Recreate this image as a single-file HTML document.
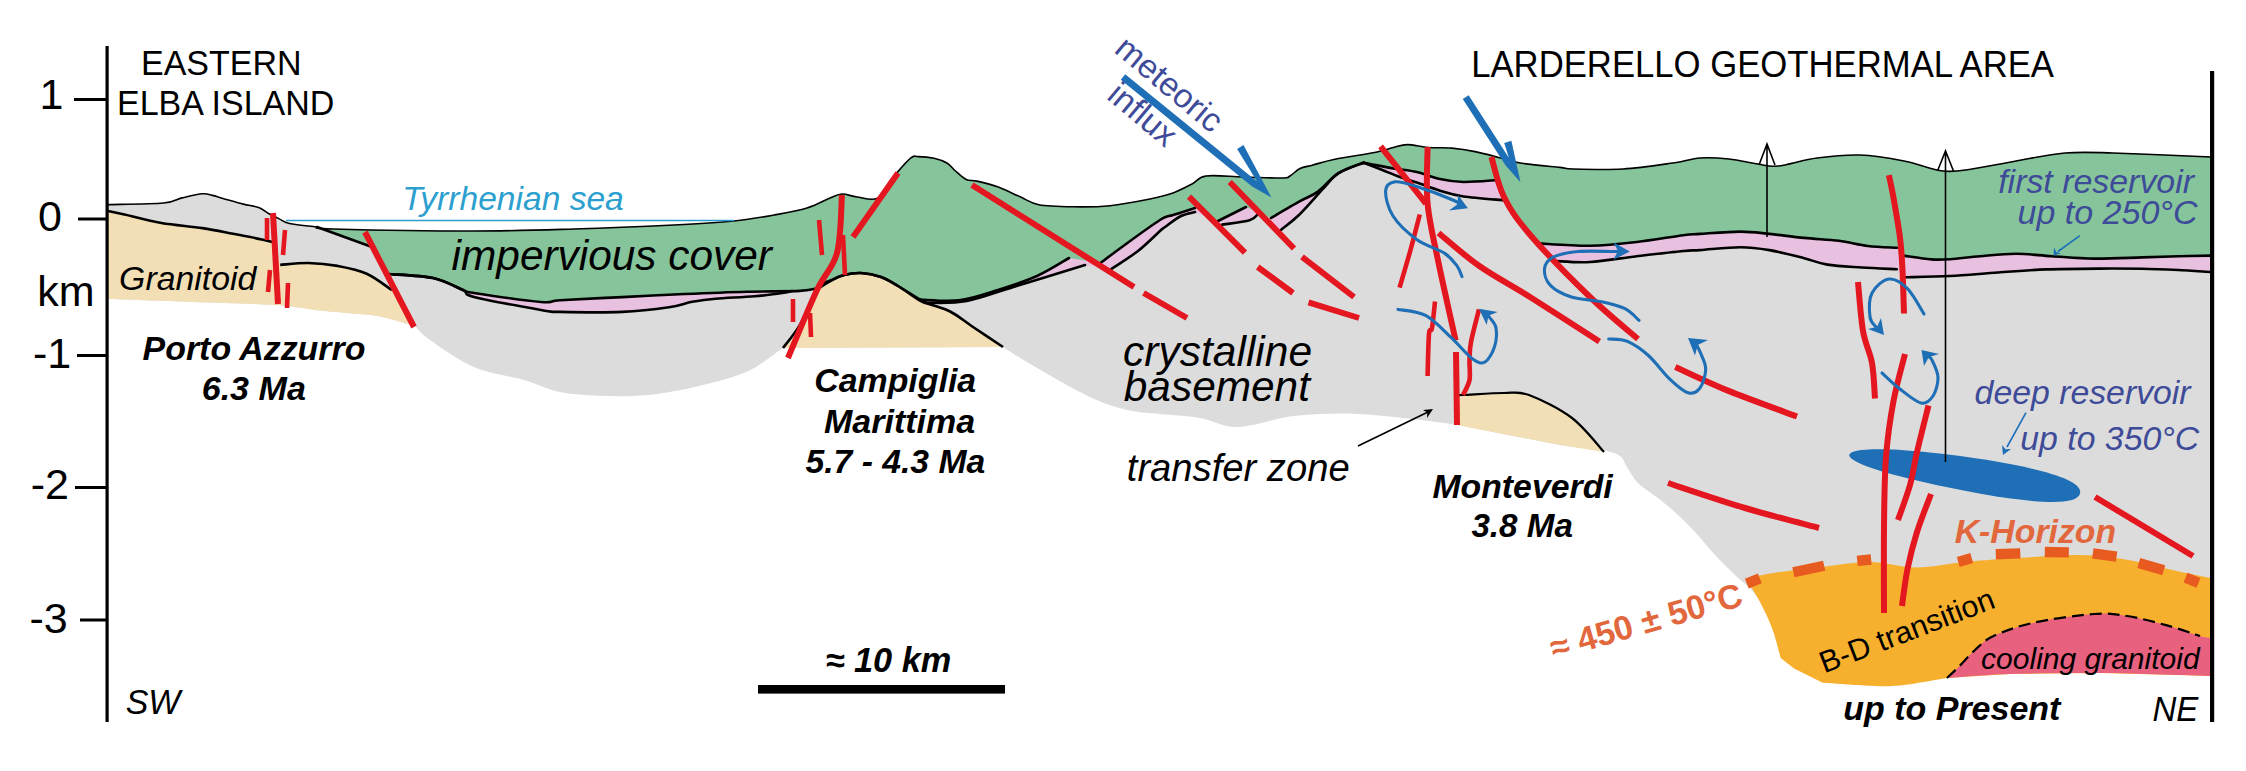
<!DOCTYPE html>
<html><head><meta charset="utf-8"><style>
html,body{margin:0;padding:0;background:#fff;}
svg{display:block;}
text{font-family:"Liberation Sans",sans-serif;}
</style></head><body>
<svg width="2246" height="771" viewBox="0 0 2246 771">
<rect width="2246" height="771" fill="#fff"/>
<path fill="#dcdcdc" d="M107,204.6 C116.4,204.3 151,204.1 163.5,203 C176,201.9 175.5,199.4 182,197.9 C188.5,196.4 197.3,194.2 202.4,193.8 C207.5,193.4 209.2,194.6 212.6,195.4 C216,196.2 217.8,197 222.9,198.4 C228,199.8 237.4,202.6 243.4,204.1 C249.4,205.6 254.4,206 258.7,207.6 C263,209.2 265.6,211.9 269,213.8 C272.4,215.7 275.8,217.3 279.2,218.9 C282.6,220.5 283.2,222.2 289.5,223.5 C295.8,224.8 312.4,226.4 317,227 L317,227 C319.7,227.3 306.8,228.3 333,229 C359.2,229.7 433.8,231 474,231 C514.2,231 540.7,230 574,229 C607.3,228 647.3,226.3 674,225 C700.7,223.7 717.3,222.7 734,221 C750.7,219.3 761.8,217.2 774,215 C786.2,212.8 797.7,210.8 807,208 C816.3,205.2 824.2,200.3 830,198 C835.8,195.7 837.5,194.2 842,194 C846.5,193.8 851.1,196.3 857,197 C862.9,197.7 871.8,201.1 877.5,198.2 C883.2,195.3 885.9,186.2 891.4,179.5 C896.9,172.8 906.1,162 910.6,158.2 C915.1,154.4 914.2,156.6 918.1,156.6 C922,156.6 929.3,157.1 934.1,158.2 C938.9,159.3 943.3,160.9 946.9,163 C950.5,165.1 952.3,168.2 955.5,171 C958.7,173.8 962.6,177.8 966.2,179.5 C969.8,181.2 971.6,179.8 976.9,181.1 C982.2,182.3 991.1,184.4 998.2,187 C1005.3,189.6 1012.8,193.7 1019.6,196.6 C1026.4,199.5 1029.9,203 1038.8,204.7 C1047.7,206.4 1061.1,206.6 1073,206.8 C1084.9,207 1097.2,207 1110,205.7 C1122.8,204.4 1139.5,201.1 1150,199 C1160.5,196.9 1166,195.5 1173,193 C1180,190.5 1186.5,186.8 1192,184 C1197.5,181.2 1197.5,177.2 1206,176 C1214.5,174.8 1230.3,176.7 1243,177 C1255.7,177.3 1274.2,178.2 1282,178 C1289.8,177.8 1287,177.6 1290,176 C1293,174.4 1296.2,170.3 1300,168.5 C1303.8,166.7 1307.2,166.6 1313,165 C1318.8,163.4 1324.5,161.3 1335,159.2 C1345.5,157.1 1366.2,154.1 1375.9,152.2 C1385.6,150.2 1388.2,148.8 1393.4,147.5 C1398.7,146.2 1401.6,144.6 1407.4,144.6 C1413.2,144.6 1421,146.9 1428.4,147.5 C1435.8,148.1 1444,147.4 1451.8,148.1 C1459.6,148.8 1467.3,150 1475.1,151.6 C1482.9,153.2 1490.7,155.4 1498.5,157.4 C1506.3,159.4 1511.5,161.6 1521.8,163.3 C1532,165 1551.5,166.5 1560,167.4 C1568.5,168.3 1562.5,168.7 1573,169 C1583.5,169.3 1606.3,170 1623,169 C1639.7,168 1660.2,164.8 1673,163 C1685.8,161.2 1690.7,158.7 1700,158 C1709.3,157.3 1719.3,158 1729,159 C1738.7,160 1749.8,162.8 1758,164 C1766.2,165.2 1768.2,167 1778,166 C1787.8,165 1803.3,159.8 1817,158 C1830.7,156.2 1845.5,154.5 1860,155 C1874.5,155.5 1890.2,158.3 1904,161 C1917.8,163.7 1931.7,169.7 1943,171 C1954.3,172.3 1959.8,170.7 1972,169 C1984.2,167.3 2000.5,163.7 2016,161 C2031.5,158.3 2048.8,154.3 2065,153 C2081.2,151.7 2088.7,152.3 2113,153 C2137.3,153.7 2194.7,156.3 2211,157 L2211,600 L1760,600 L1749,587 C1746.8,585.2 1741.6,581.2 1736,576 C1730.4,570.8 1722.4,562.9 1715.6,555.6 C1708.8,548.3 1701.4,538.9 1695,532 C1688.6,525.1 1683.1,519.6 1677,514 C1670.9,508.4 1665.1,503.8 1658.6,498.6 C1652.1,493.4 1643.3,488.3 1638,483 C1632.7,477.7 1630,471.5 1627,467 C1624,462.5 1623.8,458.7 1620,456 C1616.2,453.3 1609.7,451.9 1604,450.6 C1598.3,449.3 1593.3,448.9 1586,448 C1578.7,447.1 1573,447.2 1560,445 C1547,442.8 1527.3,438.7 1508,435 C1488.7,431.3 1469,426.5 1444,423 C1419,419.5 1383,415.2 1358,414 C1333,412.8 1314,413.8 1294,416 C1274,418.2 1253.7,426.7 1238,427 C1222.3,427.3 1213,420.2 1200,418 C1187,415.8 1171.3,415.2 1160,414 C1148.7,412.8 1141.2,412.8 1132,411 C1122.8,409.2 1114,406.8 1105,403.5 C1096,400.2 1087,395.6 1078,391 C1069,386.4 1060.1,381.2 1051,376 C1041.9,370.8 1031.5,364.8 1023.5,360 C1015.5,355.2 1006.4,349.2 1003,347 L1003,347 L783,348 L783,348 C782.1,348.6 783.9,347.6 777.9,351.6 C771.9,355.6 759.8,366.1 746.8,371.8 C733.8,377.5 715.6,382 700,385.8 C684.4,389.6 668.9,392.7 653.4,394.4 C637.9,396.1 622.3,396.4 606.7,396 C591.1,395.6 573.8,394.7 560,392 C546.2,389.3 538.3,384.2 524,380 C509.7,375.8 489.7,373.7 474,367 C458.3,360.3 439.8,346.8 430,340 C420.2,333.2 417.5,328.3 415,326 L415,326 C409.2,324.4 391.3,318.6 380,316.4 C368.7,314.2 357.4,314 347,313 C336.6,312 329.3,311.5 317.5,310.2 C305.7,308.9 296.8,306.4 276,305 C255.2,303.6 221.2,302.9 193,301.9 C164.8,300.9 121.3,299.5 107,299 Z"/>
<path fill="#f2dfb6" d="M107,210.7 C110.1,211.4 116.5,212.8 125.6,214.8 C134.7,216.9 148.6,220.8 161.4,223 C174.2,225.2 190.5,226.3 202.4,228.1 C214.3,229.9 223.2,231.9 233.1,233.8 C243,235.7 255.3,238 261.8,239.4 C268.3,240.8 270.3,241.6 272,242 L276,242 L280.2,264.9 L280.2,264.9 C284.9,264.6 298.8,262.8 308.4,263 C317.9,263.2 327.8,264.1 337.5,265.9 C347.2,267.7 357.6,269.6 366.7,273.7 C375.8,277.8 387.8,287.4 392,290.2 L415,326 L415,326 C409.2,324.4 391.3,318.6 380,316.4 C368.7,314.2 357.4,314 347,313 C336.6,312 329.3,311.5 317.5,310.2 C305.7,308.9 296.8,306.4 276,305 C255.2,303.6 221.2,302.9 193,301.9 C164.8,300.9 121.3,299.5 107,299 Z"/>
<path fill="#f2dfb6" d="M783,348 C785.8,344.2 793.6,335.3 799.6,325.3 C805.6,315.3 813.6,295.6 819,288 C824.4,280.4 827.8,282.2 832,280 C836.2,277.8 839.2,276.2 844,275 C848.8,273.8 854.8,272.7 861,273 C867.2,273.3 874.8,274.8 881,277 C887.2,279.2 891.5,282.1 898,286 C904.5,289.9 914.8,297.7 920,300.7 C925.2,303.7 923.8,302.1 929,304 C934.2,305.9 943.7,308.2 951,312 C958.3,315.8 964.3,321.2 973,327 C981.7,332.8 998,343.7 1003,347 Z"/>
<path fill="#f2dfb6" d="M1457,395 C1458,395 1455.2,395.3 1463,395 C1470.8,394.7 1493,393 1504,393 C1515,393 1517.7,390.8 1529,395 C1540.3,399.2 1559.5,408.5 1572,418 C1584.5,427.5 1598.7,446.3 1604,452 L1560,445 C1551.3,443.3 1525.2,438.3 1508,435 C1490.8,431.7 1465.5,426.7 1457,425 Z"/>
<path fill="#e7c1df" d="M317,227 C319.7,227.3 306.8,228.3 333,229 C359.2,229.7 433.8,231 474,231 C514.2,231 540.7,230 574,229 C607.3,228 647.3,226.3 674,225 C700.7,223.7 717.3,222.7 734,221 C750.7,219.3 761.8,217.2 774,215 C786.2,212.8 797.7,210.8 807,208 C816.3,205.2 824.2,200.3 830,198 C835.8,195.7 837.5,194.2 842,194 C846.5,193.8 851.1,196.3 857,197 C862.9,197.7 871.8,201.1 877.5,198.2 C883.2,195.3 885.9,186.2 891.4,179.5 C896.9,172.8 906.1,162 910.6,158.2 C915.1,154.4 914.2,156.6 918.1,156.6 C922,156.6 929.3,157.1 934.1,158.2 C938.9,159.3 943.3,160.9 946.9,163 C950.5,165.1 952.3,168.2 955.5,171 C958.7,173.8 962.6,177.8 966.2,179.5 C969.8,181.2 971.6,179.8 976.9,181.1 C982.2,182.3 991.1,184.4 998.2,187 C1005.3,189.6 1012.8,193.7 1019.6,196.6 C1026.4,199.5 1029.9,203 1038.8,204.7 C1047.7,206.4 1061.1,206.6 1073,206.8 C1084.9,207 1097.2,207 1110,205.7 C1122.8,204.4 1139.5,201.1 1150,199 C1160.5,196.9 1166,195.5 1173,193 C1180,190.5 1186.5,186.8 1192,184 C1197.5,181.2 1197.5,177.2 1206,176 C1214.5,174.8 1230.3,176.7 1243,177 C1255.7,177.3 1274.2,178.2 1282,178 C1289.8,177.8 1287,177.6 1290,176 C1293,174.4 1296.2,170.3 1300,168.5 C1303.8,166.7 1307.2,166.6 1313,165 C1318.8,163.4 1324.5,161.3 1335,159.2 C1345.5,157.1 1366.2,154.1 1375.9,152.2 C1385.6,150.2 1388.2,148.8 1393.4,147.5 C1398.7,146.2 1401.6,144.6 1407.4,144.6 C1413.2,144.6 1421,146.9 1428.4,147.5 C1435.8,148.1 1444,147.4 1451.8,148.1 C1459.6,148.8 1467.3,150 1475.1,151.6 C1482.9,153.2 1490.7,155.4 1498.5,157.4 C1506.3,159.4 1511.5,161.6 1521.8,163.3 C1532,165 1551.5,166.5 1560,167.4 C1568.5,168.3 1562.5,168.7 1573,169 C1583.5,169.3 1606.3,170 1623,169 C1639.7,168 1660.2,164.8 1673,163 C1685.8,161.2 1690.7,158.7 1700,158 C1709.3,157.3 1719.3,158 1729,159 C1738.7,160 1749.8,162.8 1758,164 C1766.2,165.2 1768.2,167 1778,166 C1787.8,165 1803.3,159.8 1817,158 C1830.7,156.2 1845.5,154.5 1860,155 C1874.5,155.5 1890.2,158.3 1904,161 C1917.8,163.7 1931.7,169.7 1943,171 C1954.3,172.3 1959.8,170.7 1972,169 C1984.2,167.3 2000.5,163.7 2016,161 C2031.5,158.3 2048.8,154.3 2065,153 C2081.2,151.7 2088.7,152.3 2113,153 C2137.3,153.7 2194.7,156.3 2211,157 L2211,272 C2205.5,271.7 2189.5,270.5 2178,270 C2166.5,269.5 2155,269 2142,268.8 C2129,268.6 2116,268.5 2100,268.6 C2084,268.7 2063,268.8 2046,269.4 C2029,270 2014,271.4 1998,272.5 C1982,273.6 1965.3,275.2 1950,276 C1934.7,276.8 1913.3,277.1 1906,277.3 L1896.8,269.2 C1891,268.9 1873.6,268.3 1862,267.5 C1850.4,266.7 1836.9,266.2 1827.3,264.6 C1817.7,263.1 1813.8,260.6 1804.2,258.2 C1794.6,255.8 1780,251.9 1769.4,250.1 C1758.8,248.3 1752.1,247.2 1740.5,247.2 C1728.9,247.2 1709.5,249.5 1700,250.1 C1690.5,250.7 1694,250 1683.5,251 C1673,252 1652.4,254.4 1636.8,256.2 C1621.2,258 1603.5,261.2 1590,262 C1576.5,262.8 1561.2,261.2 1555.5,261 L1555.5,261 C1552.7,258.1 1542.7,247.8 1538.4,243.4 C1534.2,239 1535.4,241.8 1530,234.7 C1524.6,227.5 1510,206.2 1506,200.5 L1506,200.5 C1498.9,199.8 1474.5,198.1 1463.5,196.5 C1452.5,194.9 1447.8,193 1440,190.7 C1432.2,188.4 1423.6,184.8 1416.8,182.5 C1410,180.2 1405,178.8 1399.2,176.7 C1393.4,174.6 1387.6,172 1381.7,169.7 C1375.8,167.4 1366.6,163.9 1363.6,162.7 L1363.6,162.7 C1359.4,164.4 1345.2,168.9 1338.5,173.2 C1331.8,177.5 1329.8,181.6 1323.4,188.4 C1317,195.2 1307.1,207.1 1300,214 C1292.9,220.9 1284.2,227.3 1281,230 L1258,214 C1256.6,215 1255.7,218.4 1249.6,220.2 C1243.5,222 1226.3,224 1221.6,224.8 L1195,212 C1192.7,212.7 1186,213.5 1181,216 C1176,218.5 1168.5,224.5 1165,227 C1161.5,229.5 1164.5,227 1160,231 C1155.5,235 1146.1,244.7 1138,251 C1129.9,257.3 1115.8,266 1111.4,269 L1085,265 C1073.1,268.7 1033.1,281 1013.4,287 C993.7,293 980.8,298.4 966.7,301 C952.6,303.6 936.8,302.9 929,302.7 C921.2,302.5 921.5,300.1 920,299.6 L920,299.6 C916.3,297.3 904.5,289.8 898,286 C891.5,282.2 887.2,279.2 881,277 C874.8,274.8 867.2,273.3 861,273 C854.8,272.7 848.8,273.8 844,275 C839.2,276.2 836.2,277.8 832,280 C827.8,282.2 821.2,286.7 819,288 L792,291 C791,291.2 791.9,291.6 785.7,292.5 C779.5,293.4 766.3,295.3 754.6,296.3 C742.9,297.3 726,297.8 715.6,298.7 C705.2,299.6 700.1,300.4 692.3,301.8 C684.5,303.2 680.7,305.5 669,307.2 C657.3,308.9 640.5,311.1 622.3,311.9 C604.1,312.7 573.5,312.2 560,311.9 C546.5,311.6 555.3,312.5 541,310 C526.7,307.5 487,300.3 474,297 C461,293.7 469.8,293.2 463,290 C456.2,286.8 445.5,280.7 433,278 C420.5,275.3 395.5,274.7 388,274 L372,247 L317,227 Z"/>
<path fill="#86c59b" d="M317,227 C319.7,227.3 306.8,228.3 333,229 C359.2,229.7 433.8,231 474,231 C514.2,231 540.7,230 574,229 C607.3,228 647.3,226.3 674,225 C700.7,223.7 717.3,222.7 734,221 C750.7,219.3 761.8,217.2 774,215 C786.2,212.8 797.7,210.8 807,208 C816.3,205.2 824.2,200.3 830,198 C835.8,195.7 837.5,194.2 842,194 C846.5,193.8 851.1,196.3 857,197 C862.9,197.7 871.8,201.1 877.5,198.2 C883.2,195.3 885.9,186.2 891.4,179.5 C896.9,172.8 906.1,162 910.6,158.2 C915.1,154.4 914.2,156.6 918.1,156.6 C922,156.6 929.3,157.1 934.1,158.2 C938.9,159.3 943.3,160.9 946.9,163 C950.5,165.1 952.3,168.2 955.5,171 C958.7,173.8 962.6,177.8 966.2,179.5 C969.8,181.2 971.6,179.8 976.9,181.1 C982.2,182.3 991.1,184.4 998.2,187 C1005.3,189.6 1012.8,193.7 1019.6,196.6 C1026.4,199.5 1029.9,203 1038.8,204.7 C1047.7,206.4 1061.1,206.6 1073,206.8 C1084.9,207 1097.2,207 1110,205.7 C1122.8,204.4 1139.5,201.1 1150,199 C1160.5,196.9 1166,195.5 1173,193 C1180,190.5 1186.5,186.8 1192,184 C1197.5,181.2 1197.5,177.2 1206,176 C1214.5,174.8 1230.3,176.7 1243,177 C1255.7,177.3 1274.2,178.2 1282,178 C1289.8,177.8 1287,177.6 1290,176 C1293,174.4 1296.2,170.3 1300,168.5 C1303.8,166.7 1307.2,166.6 1313,165 C1318.8,163.4 1324.5,161.3 1335,159.2 C1345.5,157.1 1366.2,154.1 1375.9,152.2 C1385.6,150.2 1388.2,148.8 1393.4,147.5 C1398.7,146.2 1401.6,144.6 1407.4,144.6 C1413.2,144.6 1421,146.9 1428.4,147.5 C1435.8,148.1 1444,147.4 1451.8,148.1 C1459.6,148.8 1467.3,150 1475.1,151.6 C1482.9,153.2 1490.7,155.4 1498.5,157.4 C1506.3,159.4 1511.5,161.6 1521.8,163.3 C1532,165 1551.5,166.5 1560,167.4 C1568.5,168.3 1562.5,168.7 1573,169 C1583.5,169.3 1606.3,170 1623,169 C1639.7,168 1660.2,164.8 1673,163 C1685.8,161.2 1690.7,158.7 1700,158 C1709.3,157.3 1719.3,158 1729,159 C1738.7,160 1749.8,162.8 1758,164 C1766.2,165.2 1768.2,167 1778,166 C1787.8,165 1803.3,159.8 1817,158 C1830.7,156.2 1845.5,154.5 1860,155 C1874.5,155.5 1890.2,158.3 1904,161 C1917.8,163.7 1931.7,169.7 1943,171 C1954.3,172.3 1959.8,170.7 1972,169 C1984.2,167.3 2000.5,163.7 2016,161 C2031.5,158.3 2048.8,154.3 2065,153 C2081.2,151.7 2088.7,152.3 2113,153 C2137.3,153.7 2194.7,156.3 2211,157 L2211,255.6 C2205.5,255.7 2189.5,255.9 2178,256.2 C2166.5,256.5 2156,257 2142,257.4 C2128,257.8 2109,258.8 2094,258.6 C2079,258.4 2065,257 2052,256.2 C2039,255.4 2028,253.8 2016,253.8 C2004,253.8 1991,255.3 1980,256.2 C1969,257.1 1958.1,258.7 1950,259.2 C1941.9,259.7 1939,259.9 1931.5,259.4 C1924,258.8 1909.3,256.5 1904.9,255.9 L1896.8,247.8 C1892,247.5 1877.4,247.2 1867.8,246 C1858.2,244.8 1849.5,242.2 1838.9,240.8 C1828.3,239.5 1815.8,239.1 1804.2,237.9 C1792.6,236.8 1780,235 1769.4,233.9 C1758.8,232.8 1752.1,231.6 1740.5,231.6 C1728.9,231.6 1709.5,233.3 1700,233.9 C1690.5,234.5 1694,233.8 1683.5,235.2 C1673,236.5 1652.4,240.2 1636.8,242 C1621.2,243.8 1606.4,245.5 1590,245.7 C1573.6,245.9 1547,243.8 1538.4,243.4 L1538.4,243.4 C1537,241.9 1535.7,242.4 1530,234.7 C1524.3,227 1509.2,206.1 1504,197 C1498.8,187.9 1499.6,182.8 1498.7,180 L1498.7,180 C1492.8,180.3 1473.3,182.2 1463.5,182 C1453.7,181.8 1447.8,180.7 1440,179 C1432.2,177.3 1424.6,173.8 1416.8,172 C1409,170.2 1400.8,169.8 1393.4,168.5 C1386,167.2 1377.4,165.4 1372.4,164.4 C1367.4,163.4 1365.1,163 1363.6,162.7 L1363.6,162.7 C1359.4,164.4 1346.2,168.3 1338.5,173.2 C1330.8,178.1 1323.9,187.2 1317.5,191.9 C1311.1,196.6 1307.8,196.8 1300,201.2 C1292.2,205.5 1275.8,215.2 1271,218 L1246,207 L1218,221 L1195,208 C1191.3,209.2 1178.8,213 1173,215 C1167.2,217 1168.5,214.7 1160,220 C1151.5,225.3 1132.2,239.5 1122.3,246.7 C1112.4,253.9 1104.1,260.3 1100.5,263 L1069,258 C1063.7,261 1048.8,270.7 1037,276 C1025.2,281.3 1011,285.9 998,290 C985,294.1 972,298.8 959,300.4 C946,302 926.5,299.7 920,299.6 L920,299.6 C916.3,297.3 904.5,289.8 898,286 C891.5,282.2 887.2,279.2 881,277 C874.8,274.8 867.2,273.3 861,273 C854.8,272.7 848.8,273.8 844,275 C839.2,276.2 836.2,277.8 832,280 C827.8,282.2 821.2,286.7 819,288 L819,288 C815.8,288.5 812,290.3 800,290.9 C788,291.5 766,291.2 746.8,291.7 C727.5,292.2 705.2,293.1 684.5,294 C663.8,294.9 643,296.1 622.3,297.1 C601.5,298.1 573.5,299.4 560,300.2 C546.5,301 555.3,303.2 541,302 C526.7,300.8 487,295 474,293 C461,291 469.8,292.5 463,290 C456.2,287.5 445.5,280.7 433,278 C420.5,275.3 395.5,274.7 388,274 L372,247 L317,227 Z"/>
<path fill="#f7b02e" d="M1746,578.4 C1751.1,577.4 1763.8,574.5 1776.7,572.5 C1789.6,570.5 1807.9,568.5 1823.4,566.7 C1839,565 1854.5,561.9 1870,562 C1885.5,562.1 1901.1,567.5 1916.7,567.5 C1932.3,567.5 1947.9,563.5 1963.4,562 C1979,560.5 1990.6,559.7 2010,558.5 C2029.4,557.3 2060.5,554.8 2080,555 C2099.5,555.2 2111.2,557.2 2126.8,559.7 C2142.4,562.2 2159.3,567.1 2173.5,570.2 C2187.7,573.3 2205.6,577 2212,578.4 L2212,676 L2100,673 L2010,674 L1947,678 C1939.2,679.2 1912.8,684.2 1900,685.5 C1887.2,686.8 1882.9,686.2 1870,685.7 C1857.1,685.2 1830.6,683.2 1822.7,682.7 L1794,668.4 L1780.7,658 L1780.7,658 C1779.3,653.2 1775.9,638.5 1772.4,629.2 C1769,619.9 1764.4,610.5 1760,602 C1755.6,593.5 1748.3,582.3 1746,578.4 Z"/>
<path fill="#e8617f" d="M1947,678 C1949,676.1 1954,671.5 1958.7,666.8 C1963.4,662.1 1969.2,655.1 1975,650 C1980.8,644.9 1983.7,640.5 1993.5,636 C2003.3,631.5 2016.9,626.4 2033.6,622.7 C2050.3,619 2078.1,615.1 2093.7,614 C2109.3,612.9 2114.8,614.1 2127,616 C2139.2,617.9 2154.8,622.1 2167,625.4 C2179.2,628.7 2192.5,633.9 2200,636 C2207.5,638.1 2210,637.7 2212,638 L2212,676 C2193.3,675.5 2133.7,673.3 2100,673 C2066.3,672.7 2035.5,673.2 2010,674 C1984.5,674.8 1957.5,677.3 1947,678 Z"/>
<path d="M107,204.6 C116.4,204.3 151,204.1 163.5,203 C176,201.9 175.5,199.4 182,197.9 C188.5,196.4 197.3,194.2 202.4,193.8 C207.5,193.4 209.2,194.6 212.6,195.4 C216,196.2 217.8,197 222.9,198.4 C228,199.8 237.4,202.6 243.4,204.1 C249.4,205.6 254.4,206 258.7,207.6 C263,209.2 265.6,211.9 269,213.8 C272.4,215.7 275.8,217.3 279.2,218.9 C282.6,220.5 283.2,222.2 289.5,223.5 C295.8,224.8 312.4,226.4 317,227 M317,227 C319.7,227.3 306.8,228.3 333,229 C359.2,229.7 433.8,231 474,231 C514.2,231 540.7,230 574,229 C607.3,228 647.3,226.3 674,225 C700.7,223.7 717.3,222.7 734,221 C750.7,219.3 761.8,217.2 774,215 C786.2,212.8 797.7,210.8 807,208 C816.3,205.2 824.2,200.3 830,198 C835.8,195.7 837.5,194.2 842,194 C846.5,193.8 851.1,196.3 857,197 C862.9,197.7 871.8,201.1 877.5,198.2 C883.2,195.3 885.9,186.2 891.4,179.5 C896.9,172.8 906.1,162 910.6,158.2 C915.1,154.4 914.2,156.6 918.1,156.6 C922,156.6 929.3,157.1 934.1,158.2 C938.9,159.3 943.3,160.9 946.9,163 C950.5,165.1 952.3,168.2 955.5,171 C958.7,173.8 962.6,177.8 966.2,179.5 C969.8,181.2 971.6,179.8 976.9,181.1 C982.2,182.3 991.1,184.4 998.2,187 C1005.3,189.6 1012.8,193.7 1019.6,196.6 C1026.4,199.5 1029.9,203 1038.8,204.7 C1047.7,206.4 1061.1,206.6 1073,206.8 C1084.9,207 1097.2,207 1110,205.7 C1122.8,204.4 1139.5,201.1 1150,199 C1160.5,196.9 1166,195.5 1173,193 C1180,190.5 1186.5,186.8 1192,184 C1197.5,181.2 1197.5,177.2 1206,176 C1214.5,174.8 1230.3,176.7 1243,177 C1255.7,177.3 1274.2,178.2 1282,178 C1289.8,177.8 1287,177.6 1290,176 C1293,174.4 1296.2,170.3 1300,168.5 C1303.8,166.7 1307.2,166.6 1313,165 C1318.8,163.4 1324.5,161.3 1335,159.2 C1345.5,157.1 1366.2,154.1 1375.9,152.2 C1385.6,150.2 1388.2,148.8 1393.4,147.5 C1398.7,146.2 1401.6,144.6 1407.4,144.6 C1413.2,144.6 1421,146.9 1428.4,147.5 C1435.8,148.1 1444,147.4 1451.8,148.1 C1459.6,148.8 1467.3,150 1475.1,151.6 C1482.9,153.2 1490.7,155.4 1498.5,157.4 C1506.3,159.4 1511.5,161.6 1521.8,163.3 C1532,165 1551.5,166.5 1560,167.4 C1568.5,168.3 1562.5,168.7 1573,169 C1583.5,169.3 1606.3,170 1623,169 C1639.7,168 1660.2,164.8 1673,163 C1685.8,161.2 1690.7,158.7 1700,158 C1709.3,157.3 1719.3,158 1729,159 C1738.7,160 1749.8,162.8 1758,164 C1766.2,165.2 1768.2,167 1778,166 C1787.8,165 1803.3,159.8 1817,158 C1830.7,156.2 1845.5,154.5 1860,155 C1874.5,155.5 1890.2,158.3 1904,161 C1917.8,163.7 1931.7,169.7 1943,171 C1954.3,172.3 1959.8,170.7 1972,169 C1984.2,167.3 2000.5,163.7 2016,161 C2031.5,158.3 2048.8,154.3 2065,153 C2081.2,151.7 2088.7,152.3 2113,153 C2137.3,153.7 2194.7,156.3 2211,157" fill="none" stroke="#000" stroke-width="1.6" stroke-linejoin="round"/>
<path d="M2211,255.6 C2205.5,255.7 2189.5,255.9 2178,256.2 C2166.5,256.5 2156,257 2142,257.4 C2128,257.8 2109,258.8 2094,258.6 C2079,258.4 2065,257 2052,256.2 C2039,255.4 2028,253.8 2016,253.8 C2004,253.8 1991,255.3 1980,256.2 C1969,257.1 1958.1,258.7 1950,259.2 C1941.9,259.7 1939,259.9 1931.5,259.4 C1924,258.8 1909.3,256.5 1904.9,255.9" fill="none" stroke="#000" stroke-width="2.6" stroke-linecap="round"/>
<path d="M1896.8,247.8 C1892,247.5 1877.4,247.2 1867.8,246 C1858.2,244.8 1849.5,242.2 1838.9,240.8 C1828.3,239.5 1815.8,239.1 1804.2,237.9 C1792.6,236.8 1780,235 1769.4,233.9 C1758.8,232.8 1752.1,231.6 1740.5,231.6 C1728.9,231.6 1709.5,233.3 1700,233.9 C1690.5,234.5 1694,233.8 1683.5,235.2 C1673,236.5 1652.4,240.2 1636.8,242 C1621.2,243.8 1606.4,245.5 1590,245.7 C1573.6,245.9 1547,243.8 1538.4,243.4" fill="none" stroke="#000" stroke-width="2.6" stroke-linecap="round"/>
<path d="M1896.8,269.2 C1891,268.9 1873.6,268.3 1862,267.5 C1850.4,266.7 1836.9,266.2 1827.3,264.6 C1817.7,263.1 1813.8,260.6 1804.2,258.2 C1794.6,255.8 1780,251.9 1769.4,250.1 C1758.8,248.3 1752.1,247.2 1740.5,247.2 C1728.9,247.2 1709.5,249.5 1700,250.1 C1690.5,250.7 1694,250 1683.5,251 C1673,252 1652.4,254.4 1636.8,256.2 C1621.2,258 1603.5,261.2 1590,262 C1576.5,262.8 1561.2,261.2 1555.5,261" fill="none" stroke="#000" stroke-width="2.6" stroke-linecap="round"/>
<path d="M1363.6,162.7 C1359.4,164.4 1346.2,168.3 1338.5,173.2 C1330.8,178.1 1323.9,187.2 1317.5,191.9 C1311.1,196.6 1307.8,196.8 1300,201.2 C1292.2,205.5 1275.8,215.2 1271,218" fill="none" stroke="#000" stroke-width="2.6" stroke-linecap="round"/>
<path d="M1363.6,162.7 C1359.4,164.4 1345.2,168.9 1338.5,173.2 C1331.8,177.5 1329.8,181.6 1323.4,188.4 C1317,195.2 1307.1,207.1 1300,214 C1292.9,220.9 1284.2,227.3 1281,230" fill="none" stroke="#000" stroke-width="2.6" stroke-linecap="round"/>
<path d="M1498.7,180 C1492.8,180.3 1473.3,182.2 1463.5,182 C1453.7,181.8 1447.8,180.7 1440,179 C1432.2,177.3 1424.6,173.8 1416.8,172 C1409,170.2 1400.8,169.8 1393.4,168.5 C1386,167.2 1377.4,165.4 1372.4,164.4 C1367.4,163.4 1365.1,163 1363.6,162.7" fill="none" stroke="#000" stroke-width="2.6" stroke-linecap="round"/>
<path d="M1246,207 L1218,221" fill="none" stroke="#000" stroke-width="2.6" stroke-linecap="round"/>
<path d="M1195,208 C1191.3,209.2 1178.8,213 1173,215 C1167.2,217 1168.5,214.7 1160,220 C1151.5,225.3 1132.2,239.5 1122.3,246.7 C1112.4,253.9 1104.1,260.3 1100.5,263" fill="none" stroke="#000" stroke-width="2.6" stroke-linecap="round"/>
<path d="M1069,258 C1063.7,261 1048.8,270.7 1037,276 C1025.2,281.3 1011,285.9 998,290 C985,294.1 972,298.8 959,300.4 C946,302 926.5,299.7 920,299.6" fill="none" stroke="#000" stroke-width="2.6" stroke-linecap="round"/>
<path d="M920,299.6 C916.3,297.3 904.5,289.8 898,286 C891.5,282.2 887.2,279.2 881,277 C874.8,274.8 867.2,273.3 861,273 C854.8,272.7 848.8,273.8 844,275 C839.2,276.2 836.2,277.8 832,280 C827.8,282.2 821.2,286.7 819,288" fill="none" stroke="#000" stroke-width="2.6" stroke-linecap="round"/>
<path d="M819,288 C815.8,288.5 812,290.3 800,290.9 C788,291.5 766,291.2 746.8,291.7 C727.5,292.2 705.2,293.1 684.5,294 C663.8,294.9 643,296.1 622.3,297.1 C601.5,298.1 573.5,299.4 560,300.2 C546.5,301 555.3,303.2 541,302 C526.7,300.8 487,295 474,293 C461,291 469.8,292.5 463,290 C456.2,287.5 445.5,280.7 433,278 C420.5,275.3 395.5,274.7 388,274" fill="none" stroke="#000" stroke-width="2.6" stroke-linecap="round"/>
<path d="M372,247 L317,227" fill="none" stroke="#000" stroke-width="2.6" stroke-linecap="round"/>
<path d="M2211,272 C2205.5,271.7 2189.5,270.5 2178,270 C2166.5,269.5 2155,269 2142,268.8 C2129,268.6 2116,268.5 2100,268.6 C2084,268.7 2063,268.8 2046,269.4 C2029,270 2014,271.4 1998,272.5 C1982,273.6 1965.3,275.2 1950,276 C1934.7,276.8 1913.3,277.1 1906,277.3" fill="none" stroke="#000" stroke-width="2.6" stroke-linecap="round"/>
<path d="M1506,200.5 C1498.9,199.8 1474.5,198.1 1463.5,196.5 C1452.5,194.9 1447.8,193 1440,190.7 C1432.2,188.4 1423.6,184.8 1416.8,182.5 C1410,180.2 1405,178.8 1399.2,176.7 C1393.4,174.6 1387.6,172 1381.7,169.7 C1375.8,167.4 1366.6,163.9 1363.6,162.7" fill="none" stroke="#000" stroke-width="2.6" stroke-linecap="round"/>
<path d="M1258,214 C1256.6,215 1255.7,218.4 1249.6,220.2 C1243.5,222 1226.3,224 1221.6,224.8" fill="none" stroke="#000" stroke-width="2.6" stroke-linecap="round"/>
<path d="M1195,212 C1192.7,212.7 1186,213.5 1181,216 C1176,218.5 1168.5,224.5 1165,227 C1161.5,229.5 1164.5,227 1160,231 C1155.5,235 1146.1,244.7 1138,251 C1129.9,257.3 1115.8,266 1111.4,269" fill="none" stroke="#000" stroke-width="2.6" stroke-linecap="round"/>
<path d="M1085,265 C1073.1,268.7 1033.1,281 1013.4,287 C993.7,293 980.8,298.4 966.7,301 C952.6,303.6 936.8,302.9 929,302.7 C921.2,302.5 921.5,300.1 920,299.6" fill="none" stroke="#000" stroke-width="2.6" stroke-linecap="round"/>
<path d="M792,291 C791,291.2 791.9,291.6 785.7,292.5 C779.5,293.4 766.3,295.3 754.6,296.3 C742.9,297.3 726,297.8 715.6,298.7 C705.2,299.6 700.1,300.4 692.3,301.8 C684.5,303.2 680.7,305.5 669,307.2 C657.3,308.9 640.5,311.1 622.3,311.9 C604.1,312.7 573.5,312.2 560,311.9 C546.5,311.6 555.3,312.5 541,310 C526.7,307.5 487,300.3 474,297 C461,293.7 469.8,293.2 463,290 C456.2,286.8 445.5,280.7 433,278 C420.5,275.3 395.5,274.7 388,274" fill="none" stroke="#000" stroke-width="2.6" stroke-linecap="round"/>
<path d="M107,210.7 C110.1,211.4 116.5,212.8 125.6,214.8 C134.7,216.9 148.6,220.8 161.4,223 C174.2,225.2 190.5,226.3 202.4,228.1 C214.3,229.9 223.2,231.9 233.1,233.8 C243,235.7 255.3,238 261.8,239.4 C268.3,240.8 270.3,241.6 272,242 M280.2,264.9 C284.9,264.6 298.8,262.8 308.4,263 C317.9,263.2 327.8,264.1 337.5,265.9 C347.2,267.7 357.6,269.6 366.7,273.7 C375.8,277.8 387.8,287.4 392,290.2 M783,348 C785.8,344.2 793.6,335.3 799.6,325.3 C805.6,315.3 813.6,295.6 819,288 C824.4,280.4 827.8,282.2 832,280 C836.2,277.8 839.2,276.2 844,275 C848.8,273.8 854.8,272.7 861,273 C867.2,273.3 874.8,274.8 881,277 C887.2,279.2 891.5,282.1 898,286 C904.5,289.9 914.8,297.7 920,300.7 C925.2,303.7 923.8,302.1 929,304 C934.2,305.9 943.7,308.2 951,312 C958.3,315.8 964.3,321.2 973,327 C981.7,332.8 998,343.7 1003,347" fill="none" stroke="#000" stroke-width="2.6"/>
<path d="M1457,395 C1458,395 1455.2,395.3 1463,395 C1470.8,394.7 1493,393 1504,393 C1515,393 1517.7,390.8 1529,395 C1540.3,399.2 1559.5,408.5 1572,418 C1584.5,427.5 1598.7,446.3 1604,452" fill="none" stroke="#000" stroke-width="2.2"/>
<path d="M1947,678 C1949,676.1 1954,671.5 1958.7,666.8 C1963.4,662.1 1969.2,655.1 1975,650 C1980.8,644.9 1983.7,640.5 1993.5,636 C2003.3,631.5 2016.9,626.4 2033.6,622.7 C2050.3,619 2078.1,615.1 2093.7,614 C2109.3,612.9 2114.8,614.1 2127,616 C2139.2,617.9 2154.8,622.1 2167,625.4 C2179.2,628.7 2194.5,634.2 2200,636" fill="none" stroke="#000" stroke-width="2.2" stroke-dasharray="12 6"/>
<line x1="286" y1="220.5" x2="734" y2="220.5" stroke="#2c9fcf" stroke-width="1.3"/>
<path fill="#1e6fb6" d="M-116,0 C-116,-8 -70,-16.5 20,-17.5 C72,-17.5 118,-14 118,0 C118,14 72,17.5 20,17 C-70,15 -116,8 -116,0 Z" transform="translate(1963.7 473.8) rotate(9.4)"/>
<path d="M273,213 L278,304" fill="none" stroke="#e4161f" stroke-width="6"/>
<path d="M267,218 L267,240" fill="none" stroke="#e4161f" stroke-width="4.6"/>
<path d="M285,230 L283,255" fill="none" stroke="#e4161f" stroke-width="4.6"/>
<path d="M270,270 L268,292" fill="none" stroke="#e4161f" stroke-width="4.6"/>
<path d="M288,283 L287,308" fill="none" stroke="#e4161f" stroke-width="4.6"/>
<path d="M365,232 L414,327" fill="none" stroke="#e4161f" stroke-width="6"/>
<path d="M788,358 C792.8,346.7 808.8,307.5 817,290 C825.2,272.5 832.8,268.8 837,253 C841.2,237.2 841.2,204.7 842,195" fill="none" stroke="#e4161f" stroke-width="6"/>
<path d="M843,235 L845,275" fill="none" stroke="#e4161f" stroke-width="4.6"/>
<path d="M819,220 L822,255" fill="none" stroke="#e4161f" stroke-width="4.6"/>
<path d="M793,299 L793,322" fill="none" stroke="#e4161f" stroke-width="4.6"/>
<path d="M810,313 L811,337" fill="none" stroke="#e4161f" stroke-width="4.6"/>
<path d="M853,237 L898,173" fill="none" stroke="#e4161f" stroke-width="6"/>
<path d="M972,185 L1134,287" fill="none" stroke="#e4161f" stroke-width="6"/>
<path d="M1143.6,293 L1187,318" fill="none" stroke="#e4161f" stroke-width="6"/>
<path d="M1189,196.6 L1245,252.6" fill="none" stroke="#e4161f" stroke-width="6"/>
<path d="M1257.7,267 L1293,293" fill="none" stroke="#e4161f" stroke-width="6"/>
<path d="M1308.5,302.4 L1359,318" fill="none" stroke="#e4161f" stroke-width="6"/>
<path d="M1229.7,182 L1294,248.5" fill="none" stroke="#e4161f" stroke-width="6"/>
<path d="M1302,256.8 L1354,297" fill="none" stroke="#e4161f" stroke-width="6"/>
<path d="M1380.6,146.3 L1426,203.6" fill="none" stroke="#e4161f" stroke-width="6"/>
<path d="M1427.6,147 C1427.6,156.4 1425.8,184.3 1427.6,203.6 C1429.4,222.9 1433.8,239.9 1438.5,262.7 C1443.2,285.5 1452.8,327.5 1455.6,340.5" fill="none" stroke="#e4161f" stroke-width="6"/>
<path d="M1456,352 L1457,425" fill="none" stroke="#e4161f" stroke-width="6"/>
<path d="M1419.8,214.5 C1418.2,220.4 1413.9,237.8 1410.5,250 C1407.1,262.2 1401.4,281.3 1399.6,287.6" fill="none" stroke="#e4161f" stroke-width="4.6"/>
<path d="M1438.5,233 C1445.2,238.5 1463.8,255.1 1479,265.8 C1494.2,276.5 1509.9,284.4 1530,297 C1550.1,309.6 1587.8,334 1599.4,341.4" fill="none" stroke="#e4161f" stroke-width="6"/>
<path d="M1435,301.6 C1434.5,306 1433,322.6 1432,328 C1431,333.4 1429.7,326 1429,334 C1428.3,342 1427.8,369 1427.6,376" fill="none" stroke="#e4161f" stroke-width="4.6"/>
<path d="M1479,309.4 C1477.7,314.8 1472.6,333.6 1471,342 C1469.4,350.4 1469.8,353.7 1469.5,360 C1469.2,366.3 1470.6,374.2 1469.5,380 C1468.4,385.8 1464.1,392.5 1463,395" fill="none" stroke="#e4161f" stroke-width="4.6"/>
<path d="M1491.4,157 C1493.5,163.7 1497.6,184.1 1504,197 C1510.4,209.9 1515.7,218 1530,234.7 C1544.3,251.4 1572,279.6 1590,297 C1608,314.4 1630,332 1638,339" fill="none" stroke="#e4161f" stroke-width="6"/>
<path d="M1675.3,367 C1684.1,370.9 1707.7,382.4 1728,390.6 C1748.3,398.9 1785.5,412.2 1797,416.5" fill="none" stroke="#e4161f" stroke-width="6"/>
<path d="M1668,483 C1680.8,487.2 1719.8,500.5 1745,508 C1770.2,515.5 1806.7,524.7 1819,528" fill="none" stroke="#e4161f" stroke-width="6"/>
<path d="M2095,497 L2193,556" fill="none" stroke="#e4161f" stroke-width="6"/>
<path d="M1888.9,175.2 C1889.8,179.4 1892.2,190.1 1894,200.5 C1895.8,210.9 1898.6,226.3 1900,237.6 C1901.4,248.8 1901.7,255.3 1902.4,268 C1903.1,280.6 1903.7,305.9 1904,313.5" fill="none" stroke="#e4161f" stroke-width="6"/>
<path d="M1858,282 C1858.8,290.2 1860.7,317.5 1863,331 C1865.3,344.5 1870,351.8 1872,363 C1874,374.2 1874.5,392.6 1875,398.5" fill="none" stroke="#e4161f" stroke-width="6"/>
<path d="M1905,354 C1903.1,361.8 1896.7,383.8 1893.5,401 C1890.3,418.2 1887.6,436 1886,457 C1884.4,478 1884.3,501 1884,527 C1883.7,553 1884,598.7 1884,613" fill="none" stroke="#e4161f" stroke-width="6"/>
<path d="M1928.5,405.5 C1926.6,413.2 1920.1,438.8 1917,452 C1913.9,465.2 1913.2,473.7 1910,485 C1906.8,496.3 1900,514.2 1898,520" fill="none" stroke="#e4161f" stroke-width="6"/>
<path d="M1931,494 C1928.7,500.3 1920.9,519.5 1917,532 C1913.1,544.5 1910,556.7 1907.5,569 C1905,581.3 1902.9,599.8 1902,606" fill="none" stroke="#e4161f" stroke-width="6"/>
<path d="M1462,276.7 C1461.2,274.9 1459.9,269.7 1457,265.8 C1454.1,261.9 1451.4,257.8 1444.7,253.4 C1438,249 1425.3,245.6 1416.7,239.4 C1408.1,233.2 1398.2,224.1 1393,216 C1387.8,207.9 1385.3,196.7 1385.6,191 C1385.9,185.3 1389.8,182.6 1395,181.8 C1400.2,181.1 1406.9,183.4 1416.7,186.5 C1426.5,189.6 1446.9,197.4 1454,200.5 C1461.1,203.6 1458.4,204.2 1459.3,204.9" fill="none" stroke="#1e6fb6" stroke-width="3.1" stroke-linecap="round"/>
<polygon fill="#1e6fb6" points="1468,208.2 1449,210.5 1457.56,204.276 1458,195"/>
<path d="M1398,309.4 C1402.7,310.4 1417.2,310.9 1426,315.6 C1434.8,320.3 1443.2,330.2 1451,337.4 C1458.8,344.6 1467,354.9 1472.7,359 C1478.4,363.1 1481.4,364 1485,362 C1488.6,360 1492.7,352.5 1494.5,346.8 C1496.3,341.1 1496.8,332.8 1496,328 C1495.2,323.2 1491.5,320.2 1490,318 C1488.5,315.8 1487.4,315.2 1486.9,314.6" fill="none" stroke="#1e6fb6" stroke-width="3.1" stroke-linecap="round"/>
<polygon fill="#1e6fb6" points="1479,308.8 1486.7,325 1488.47,315.784 1497.6,312"/>
<path d="M1639,320.4 C1636.7,318.4 1631.2,311.8 1625,308.7 C1618.8,305.6 1610.6,303.6 1601.7,301.7 C1592.8,299.8 1580,299.7 1571.4,297 C1562.9,294.3 1554.9,290.1 1550.4,285.4 C1545.9,280.7 1544.1,273.7 1544.5,269 C1544.9,264.3 1547.1,260.3 1552.7,257.4 C1558.3,254.5 1567.6,252.5 1578,251.5 C1588.4,250.5 1608,251.6 1615,251.5 C1622,251.4 1619.1,251.2 1620,251.2" fill="none" stroke="#1e6fb6" stroke-width="3.1" stroke-linecap="round"/>
<polygon fill="#1e6fb6" points="1629.8,251.5 1613.4,242.2 1617.99,251.104 1613.4,259.7"/>
<path d="M1608.7,339 C1611.8,339.4 1620.8,338.6 1627.4,341.4 C1634,344.1 1641.4,349.3 1648.4,355.5 C1655.4,361.7 1662.9,372.6 1669.5,378.8 C1676.1,385 1682.9,391.3 1688,392.8 C1693.1,394.3 1697,391.9 1700,388 C1703,384.1 1705.5,375.2 1705.7,369.5 C1705.9,363.8 1702.6,358.3 1701,354 C1699.4,349.7 1696.9,345.5 1696.1,343.9" fill="none" stroke="#1e6fb6" stroke-width="3.1" stroke-linecap="round"/>
<polygon fill="#1e6fb6" points="1688,338 1695,355.5 1697.72,345.02 1708,340"/>
<path d="M1924,314 C1921.2,309.8 1913.3,294.5 1907.5,288.7 C1901.7,282.9 1894.9,278.3 1889,279 C1883.1,279.7 1875.2,286.7 1872,293 C1868.8,299.3 1869.3,311.3 1870,317 C1870.7,322.7 1874.6,325.1 1876,327 C1877.4,328.9 1877.9,327.9 1878.3,328.1" fill="none" stroke="#1e6fb6" stroke-width="3.1" stroke-linecap="round"/>
<polygon fill="#1e6fb6" points="1884,335 1868,329 1877.16,326.72 1881,318"/>
<path d="M1882,373 C1885,375.7 1893.5,384 1900,389 C1906.5,394 1915.5,401.8 1921,403 C1926.5,404.2 1930.2,400.2 1933,396 C1935.8,391.8 1938.2,383.5 1938,377.5 C1937.8,371.5 1933.8,363.6 1932,360 C1930.2,356.4 1928.2,356.7 1927.5,356" fill="none" stroke="#1e6fb6" stroke-width="3.1" stroke-linecap="round"/>
<polygon fill="#1e6fb6" points="1921.5,350 1924,366 1928.7,357.2 1939,354"/>
<polygon fill="#1e6fb6" points="1120.79,79.7162 1252.12,186.441 1271.4,197.6 1243.49,145.036 1237.11,148.964 1257.07,181.442 1125.21,74.2838"/>
<polygon fill="#1e6fb6" points="1462.76,98.9949 1505.65,165.598 1520.5,182.2 1511.38,140.675 1504.22,142.925 1508.85,157.643 1468.64,95.2051"/>
<path d="M2079.9,235.6 L2058,251.5" stroke="#1e6fb6" stroke-width="1.6"/>
<polygon fill="#1e6fb6" points="2053.5,255.6 2054,247.5 2056.38,251.928 2061,253.5"/>
<path d="M2026,412.7 L2007,447" stroke="#1e6fb6" stroke-width="1.6"/>
<polygon fill="#1e6fb6" points="2003,454.9 2002,445 2005.52,449.212 2011,449"/>
<path d="M1767,237 L1767,144 M1759,165 L1767,144 L1775,165" fill="none" stroke="#000" stroke-width="1.6"/>
<path d="M1945.5,462 L1945.5,151 M1937.5,171 L1945.5,151 L1953.5,171" fill="none" stroke="#000" stroke-width="1.6"/>
<path d="M1358,446 L1428,412" stroke="#000" stroke-width="1.6"/>
<polygon fill="#000" points="1433,409 1423,410 1427.24,412.6 1427,418"/>
<rect x="1746.3" y="575.8" width="14" height="10.4" fill="#e85b20" transform="rotate(-22 1753.3 581)"/>
<rect x="1793.0" y="563.8" width="31.5" height="10.4" fill="#e85b20" transform="rotate(-12 1808.7 569)"/>
<rect x="1857.2" y="555.0" width="14" height="10.4" fill="#e85b20" transform="rotate(-6 1864.2 560.2)"/>
<rect x="1958.0" y="554.8" width="14" height="10.4" fill="#e85b20" transform="rotate(-16 1965 560)"/>
<rect x="1995.8" y="548.6" width="24.5" height="10.4" fill="#e85b20" transform="rotate(-2 2008 553.8)"/>
<rect x="2044.8" y="547.0" width="24" height="10.4" fill="#e85b20" transform="rotate(1 2056.8 552.2)"/>
<rect x="2092.7" y="549.8" width="24" height="10.4" fill="#e85b20" transform="rotate(8 2104.7 555)"/>
<rect x="2138.3" y="561.5" width="26" height="10.4" fill="#e85b20" transform="rotate(16 2151.3 566.7)"/>
<rect x="2185.0" y="575.0" width="14" height="10.4" fill="#e85b20" transform="rotate(22 2192 580.2)"/>
<text x="0" y="0" font-size="34" font-weight="normal" font-style="normal" fill="#000" transform="translate(141 74.6) scale(1 1.05)">EASTERN</text>
<text x="0" y="0" font-size="34" font-weight="normal" font-style="normal" fill="#000" transform="translate(117 115.3) scale(1 1.05)">ELBA ISLAND</text>
<text x="0" y="0" font-size="34.7" font-weight="normal" font-style="normal" fill="#000" transform="translate(1471.2 76.5) scale(1 1.05)">LARDERELLO GEOTHERMAL AREA</text>
<text x="39.4" y="108.9" font-size="43" font-weight="normal" font-style="normal" fill="#000">1</text>
<text x="38" y="230.9" font-size="43" font-weight="normal" font-style="normal" fill="#000">0</text>
<text x="37.35" y="305.7" font-size="43" font-weight="normal" font-style="normal" fill="#000">km</text>
<text x="33" y="368.4" font-size="43" font-weight="normal" font-style="normal" fill="#000">-1</text>
<text x="30.8" y="498.5" font-size="43" font-weight="normal" font-style="normal" fill="#000">-2</text>
<text x="29.5" y="633.3" font-size="43" font-weight="normal" font-style="normal" fill="#000">-3</text>
<text x="402.3" y="210.3" font-size="33.6" font-weight="normal" font-style="italic" fill="#2c9fcf">Tyrrhenian sea</text>
<text x="451.6" y="269.5" font-size="42.4" font-weight="normal" font-style="italic" fill="#000">impervious cover</text>
<text x="119.1" y="289.7" font-size="33.8" font-weight="normal" font-style="italic" fill="#000">Granitoid</text>
<text x="142.6" y="359.6" font-size="33.9" font-weight="bold" font-style="italic" fill="#000">Porto Azzurro</text>
<text x="201.7" y="400.2" font-size="34.1" font-weight="bold" font-style="italic" fill="#000">6.3 Ma</text>
<text x="814.2" y="391.7" font-size="33.9" font-weight="bold" font-style="italic" fill="#000">Campiglia</text>
<text x="824" y="433.1" font-size="34" font-weight="bold" font-style="italic" fill="#000">Marittima</text>
<text x="805.5" y="472.8" font-size="33.7" font-weight="bold" font-style="italic" fill="#000">5.7 - 4.3 Ma</text>
<text x="825.7" y="672.4" font-size="34.3" font-weight="bold" font-style="italic" fill="#000">≈ 10 km</text>
<text x="1123.1" y="366.4" font-size="42.5" font-weight="normal" font-style="italic" fill="#000">crystalline</text>
<text x="1123.8" y="401.2" font-size="42.4" font-weight="normal" font-style="italic" fill="#000">basement</text>
<text x="1126.8" y="480.6" font-size="38.2" font-weight="normal" font-style="italic" fill="#000">transfer zone</text>
<text x="1432.4" y="498" font-size="33.8" font-weight="bold" font-style="italic" fill="#000">Monteverdi</text>
<text x="1471.4" y="537" font-size="33.2" font-weight="bold" font-style="italic" fill="#000">3.8 Ma</text>
<text x="1998.2" y="193.2" font-size="33.9" font-weight="normal" font-style="italic" fill="#3e4b98">first reservoir</text>
<text x="2017.5" y="223.8" font-size="34" font-weight="normal" font-style="italic" fill="#3e4b98">up to 250°C</text>
<text x="1974.6" y="403.7" font-size="33.8" font-weight="normal" font-style="italic" fill="#3e4b98">deep reservoir</text>
<text x="2020.3" y="449.8" font-size="33.8" font-weight="normal" font-style="italic" fill="#3e4b98">up to 350°C</text>
<text x="1954.7" y="543.2" font-size="33.8" font-weight="bold" font-style="italic" fill="#e2673c">K-Horizon</text>
<text x="1981.1" y="668.6" font-size="30" font-weight="normal" font-style="italic" fill="#000">cooling granitoid</text>
<text x="1843.2" y="719.7" font-size="34" font-weight="bold" font-style="italic" fill="#000">up to Present</text>
<text x="0" y="0" font-size="33" font-weight="normal" font-style="italic" fill="#000" transform="translate(2152.5 720.8) scale(1 1.05)">NE</text>
<text x="0" y="0" font-size="33.9" font-weight="normal" font-style="italic" fill="#000" transform="translate(125.7 713.6) scale(1 1.05)">SW</text>
<text x="0" y="0" font-size="34" font-weight="bold" font-style="normal" fill="#e2673c" transform="translate(1554 660) rotate(-16)">≈ 450 ± 50°C</text>
<text x="0" y="0" font-size="30.5" font-weight="normal" font-style="normal" fill="#000" transform="translate(1824.3 673.5) rotate(-21)">B-D transition</text>
<text x="0" y="0" font-size="33.5" font-weight="normal" font-style="normal" fill="#3e4b98" transform="translate(1113 51.5) rotate(40)">meteoric</text>
<text x="0" y="0" font-size="33.5" font-weight="normal" font-style="normal" fill="#3e4b98" transform="translate(1105.5 98) rotate(40)">influx</text>
<rect x="105.5" y="46" width="3.2" height="676" fill="#000"/>
<rect x="2210" y="71" width="4.2" height="651" fill="#000"/>
<rect x="74" y="98.0" width="32" height="3" fill="#000"/>
<rect x="78" y="217.5" width="28" height="3" fill="#000"/>
<rect x="77" y="354.0" width="29" height="3" fill="#000"/>
<rect x="75" y="486.0" width="31" height="3" fill="#000"/>
<rect x="80" y="618.5" width="26" height="3" fill="#000"/>
<rect x="758" y="685" width="247" height="8.6" fill="#000"/>
</svg></body></html>
